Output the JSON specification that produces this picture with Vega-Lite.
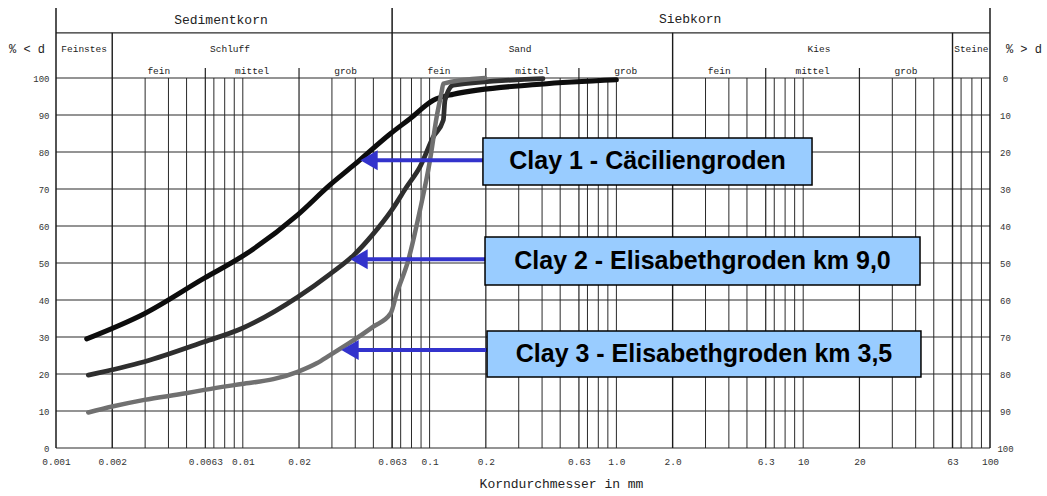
{
  "$schema": "https://vega.github.io/schema/vega-lite/v6.json",
  "width": 934,
  "height": 370,
  "autosize": {"type": "none"},
  "padding": {"left": 56, "top": 78, "right": 57, "bottom": 48},
  "background": "white",
  "config": {"view": {"stroke": null}, "font": "Liberation Mono"},
  "datasets": {
    "hlines": [
      {"p": 0}, {"p": 10}, {"p": 20}, {"p": 30}, {"p": 40}, {"p": 50},
      {"p": 60}, {"p": 70}, {"p": 80}, {"p": 90}, {"p": 100}, {"p": 112.2}
    ],
    "vlines": [
      {"d": 0.001, "kind": "full"}, {"d": 0.063, "kind": "full"}, {"d": 100, "kind": "full"},
      {"d": 0.002, "kind": "major"}, {"d": 2, "kind": "major"}, {"d": 63, "kind": "major"},
      {"d": 0.0063, "kind": "sub"}, {"d": 0.02, "kind": "sub"}, {"d": 0.2, "kind": "sub"},
      {"d": 0.63, "kind": "sub"}, {"d": 6.3, "kind": "sub"}, {"d": 20, "kind": "sub"},
      {"d": 0.003, "kind": "minor"}, {"d": 0.004, "kind": "minor"}, {"d": 0.005, "kind": "minor"},
      {"d": 0.007, "kind": "minor"}, {"d": 0.008, "kind": "minor"}, {"d": 0.009, "kind": "minor"},
      {"d": 0.01, "kind": "minor"}, {"d": 0.03, "kind": "minor"}, {"d": 0.04, "kind": "minor"},
      {"d": 0.05, "kind": "minor"}, {"d": 0.07, "kind": "minor"}, {"d": 0.08, "kind": "minor"},
      {"d": 0.09, "kind": "minor"}, {"d": 0.1, "kind": "minor"}, {"d": 0.3, "kind": "minor"},
      {"d": 0.4, "kind": "minor"}, {"d": 0.5, "kind": "minor"}, {"d": 0.7, "kind": "minor"},
      {"d": 0.8, "kind": "minor"}, {"d": 0.9, "kind": "minor"}, {"d": 1, "kind": "minor"},
      {"d": 3, "kind": "minor"}, {"d": 4, "kind": "minor"}, {"d": 5, "kind": "minor"},
      {"d": 7, "kind": "minor"}, {"d": 8, "kind": "minor"}, {"d": 9, "kind": "minor"},
      {"d": 10, "kind": "minor"}, {"d": 30, "kind": "minor"}, {"d": 40, "kind": "minor"},
      {"d": 50, "kind": "minor"}, {"d": 70, "kind": "minor"}, {"d": 80, "kind": "minor"},
      {"d": 90, "kind": "minor"}
    ],
    "curves": [
      {"clay": "Clay 1", "d": 0.00146, "p": 29.5},
      {"clay": "Clay 1", "d": 0.00297, "p": 36.3},
      {"clay": "Clay 1", "d": 0.00622, "p": 45.9},
      {"clay": "Clay 1", "d": 0.00987, "p": 51.7},
      {"clay": "Clay 1", "d": 0.01967, "p": 63.0},
      {"clay": "Clay 1", "d": 0.0293, "p": 71.1},
      {"clay": "Clay 1", "d": 0.0394, "p": 76.5},
      {"clay": "Clay 1", "d": 0.0619, "p": 85.0},
      {"clay": "Clay 1", "d": 0.0785, "p": 89.0},
      {"clay": "Clay 1", "d": 0.1047, "p": 94.0},
      {"clay": "Clay 1", "d": 0.134, "p": 95.6},
      {"clay": "Clay 1", "d": 0.39, "p": 98.3},
      {"clay": "Clay 1", "d": 1.0, "p": 99.5},
      {"clay": "Clay 2", "d": 0.001489, "p": 19.7},
      {"clay": "Clay 2", "d": 0.00297, "p": 23.3},
      {"clay": "Clay 2", "d": 0.00622, "p": 28.7},
      {"clay": "Clay 2", "d": 0.00987, "p": 32.3},
      {"clay": "Clay 2", "d": 0.0197, "p": 40.8},
      {"clay": "Clay 2", "d": 0.0293, "p": 47.0},
      {"clay": "Clay 2", "d": 0.0394, "p": 52.2},
      {"clay": "Clay 2", "d": 0.0494, "p": 57.6},
      {"clay": "Clay 2", "d": 0.0627, "p": 64.3},
      {"clay": "Clay 2", "d": 0.0754, "p": 70.6},
      {"clay": "Clay 2", "d": 0.0888, "p": 76.0},
      {"clay": "Clay 2", "d": 0.1047, "p": 84.1},
      {"clay": "Clay 2", "d": 0.1184, "p": 88.6},
      {"clay": "Clay 2", "d": 0.1209, "p": 94.0},
      {"clay": "Clay 2", "d": 0.134, "p": 98.1},
      {"clay": "Clay 2", "d": 0.4047, "p": 99.8},
      {"clay": "Clay 3", "d": 0.001489, "p": 9.6},
      {"clay": "Clay 3", "d": 0.002, "p": 11.2},
      {"clay": "Clay 3", "d": 0.00297, "p": 13.0},
      {"clay": "Clay 3", "d": 0.00495, "p": 14.8},
      {"clay": "Clay 3", "d": 0.00622, "p": 15.7},
      {"clay": "Clay 3", "d": 0.00987, "p": 17.3},
      {"clay": "Clay 3", "d": 0.01457, "p": 18.6},
      {"clay": "Clay 3", "d": 0.01967, "p": 20.6},
      {"clay": "Clay 3", "d": 0.02486, "p": 22.9},
      {"clay": "Clay 3", "d": 0.0293, "p": 25.1},
      {"clay": "Clay 3", "d": 0.0394, "p": 29.2},
      {"clay": "Clay 3", "d": 0.04995, "p": 32.8},
      {"clay": "Clay 3", "d": 0.0619, "p": 36.4},
      {"clay": "Clay 3", "d": 0.06667, "p": 41.8},
      {"clay": "Clay 3", "d": 0.07691, "p": 50.8},
      {"clay": "Clay 3", "d": 0.08884, "p": 64.3},
      {"clay": "Clay 3", "d": 0.1005, "p": 77.8},
      {"clay": "Clay 3", "d": 0.1091, "p": 89.5},
      {"clay": "Clay 3", "d": 0.1161, "p": 96.3},
      {"clay": "Clay 3", "d": 0.1184, "p": 98.5},
      {"clay": "Clay 3", "d": 0.198, "p": 100.0}
    ],
    "arrows": [
      {"clay": "Clay 1", "d": 0.0474, "d2": 0.193, "p": 77.8},
      {"clay": "Clay 2", "d": 0.0419, "d2": 0.198, "p": 51.0},
      {"clay": "Clay 3", "d": 0.0375, "d2": 0.203, "p": 26.5}
    ],
    "boxes": [
      {"label": "Clay 1 - Cäciliengroden", "d": 0.193, "d2": 11.15, "p": 83.8, "p2": 71.1, "dc": 1.467, "pc": 77.45},
      {"label": "Clay 2 - Elisabethgroden km 9,0", "d": 0.198, "d2": 42.2, "p": 57.0, "p2": 44.05, "dc": 2.89, "pc": 50.5},
      {"label": "Clay 3 - Elisabethgroden km 3,5", "d": 0.203, "d2": 42.7, "p": 31.6, "p2": 19.2, "dc": 2.944, "pc": 25.4}
    ],
    "header": [
      {"label": "Sedimentkorn", "d": 0.00764, "p": 115.8, "level": "title"},
      {"label": "Siebkorn", "d": 2.48, "p": 115.9, "level": "title"},
      {"label": "Feinstes", "d": 0.001414, "p": 107.8, "level": "group"},
      {"label": "Schluff", "d": 0.00854, "p": 107.8, "level": "group"},
      {"label": "Sand", "d": 0.305, "p": 107.8, "level": "group"},
      {"label": "Kies", "d": 12.15, "p": 107.8, "level": "group"},
      {"label": "Steine", "d": 79.4, "p": 107.8, "level": "group"},
      {"label": "fein", "d": 0.00355, "p": 101.9, "level": "sub"},
      {"label": "mittel", "d": 0.01122, "p": 101.9, "level": "sub"},
      {"label": "grob", "d": 0.0355, "p": 101.9, "level": "sub"},
      {"label": "fein", "d": 0.1122, "p": 101.9, "level": "sub"},
      {"label": "mittel", "d": 0.355, "p": 101.9, "level": "sub"},
      {"label": "grob", "d": 1.122, "p": 101.9, "level": "sub"},
      {"label": "fein", "d": 3.55, "p": 101.9, "level": "sub"},
      {"label": "mittel", "d": 11.22, "p": 101.9, "level": "sub"},
      {"label": "grob", "d": 35.5, "p": 101.9, "level": "sub"},
      {"label": "% < d", "d": 0.0007, "p": 107.8, "level": "side"},
      {"label": "% > d", "d": 152, "p": 107.8, "level": "side"}
    ]
  },
  "resolve": {"axis": {"y": "independent"}},
  "layer": [
    {
      "data": {"name": "hlines"},
      "mark": {"type": "rule", "color": "#2a2a2a", "strokeWidth": 1.1},
      "encoding": {
        "x": {"datum": 0.001, "type": "quantitative", "scale": {"type": "log", "domain": [0.001, 100], "nice": false}},
        "x2": {"datum": 100},
        "y": {
          "field": "p", "type": "quantitative",
          "scale": {"domain": [0, 100], "nice": false, "zero": false},
          "axis": {
            "orient": "right", "values": [0, 10, 20, 30, 40, 50, 60, 70, 80, 90, 100],
            "labelExpr": "100 - datum.value", "ticks": false, "domain": false, "grid": false,
            "labelAlign": "center", "labelPadding": 15, "labelFont": "Liberation Mono",
            "labelFontSize": 9, "labelColor": "#333", "title": null
          }
        }
      }
    },
    {
      "data": {"name": "vlines"},
      "transform": [{"filter": "datum.kind == 'minor'"}],
      "mark": {"type": "rule", "color": "#2a2a2a", "strokeWidth": 1},
      "encoding": {
        "x": {"field": "d", "type": "quantitative", "scale": {"type": "log", "domain": [0.001, 100], "nice": false}},
        "y": {"datum": 0, "type": "quantitative", "axis": null},
        "y2": {"datum": 100}
      }
    },
    {
      "data": {"name": "vlines"},
      "transform": [{"filter": "datum.kind == 'sub'"}],
      "mark": {"type": "rule", "color": "#222", "strokeWidth": 1.2},
      "encoding": {
        "x": {"field": "d", "type": "quantitative", "scale": {"type": "log", "domain": [0.001, 100], "nice": false}},
        "y": {"datum": 0, "type": "quantitative", "axis": null},
        "y2": {"datum": 102.7}
      }
    },
    {
      "data": {"name": "vlines"},
      "transform": [{"filter": "datum.kind == 'major'"}],
      "mark": {"type": "rule", "color": "#1a1a1a", "strokeWidth": 1.4},
      "encoding": {
        "x": {"field": "d", "type": "quantitative", "scale": {"type": "log", "domain": [0.001, 100], "nice": false}},
        "y": {"datum": 0, "type": "quantitative", "axis": null},
        "y2": {"datum": 112.2}
      }
    },
    {
      "data": {"name": "vlines"},
      "transform": [{"filter": "datum.kind == 'full'"}],
      "mark": {"type": "rule", "color": "#1a1a1a", "strokeWidth": 1.5},
      "encoding": {
        "x": {"field": "d", "type": "quantitative", "scale": {"type": "log", "domain": [0.001, 100], "nice": false}},
        "y": {"datum": 0, "type": "quantitative", "axis": null},
        "y2": {"datum": 118.9}
      }
    },
    {
      "data": {"name": "curves"},
      "mark": {"type": "line", "interpolate": "monotone", "strokeCap": "round", "strokeJoin": "round"},
      "encoding": {
        "x": {
          "field": "d", "type": "quantitative",
          "scale": {"type": "log", "domain": [0.001, 100], "nice": false},
          "axis": {
            "orient": "bottom",
            "values": [0.001, 0.002, 0.0063, 0.01, 0.02, 0.063, 0.1, 0.2, 0.63, 1, 2, 6.3, 10, 20, 63, 100],
            "labelExpr": "datum.value == 1 ? '1.0' : datum.value == 2 ? '2.0' : '' + datum.value",
            "ticks": false, "domain": false, "grid": false, "labelOverlap": false, "labelFlush": false,
            "labelPadding": 8, "labelFont": "Liberation Mono", "labelFontSize": 9.5, "labelColor": "#333",
            "title": "Korndurchmesser in mm", "titleFont": "Liberation Mono", "titleFontSize": 13,
            "titleFontWeight": "normal", "titleColor": "#222", "titlePadding": 12, "titleX": 505
          }
        },
        "y": {
          "field": "p", "type": "quantitative",
          "scale": {"domain": [0, 100], "nice": false, "zero": false},
          "axis": {
            "orient": "left", "values": [0, 10, 20, 30, 40, 50, 60, 70, 80, 90, 100],
            "ticks": false, "domain": false, "grid": false, "labelPadding": 7,
            "labelFont": "Liberation Mono", "labelFontSize": 9, "labelColor": "#333", "title": null
          }
        },
        "color": {
          "field": "clay", "type": "nominal",
          "scale": {"domain": ["Clay 1", "Clay 2", "Clay 3"], "range": ["#0d0d0d", "#2e2e2e", "#707070"]},
          "legend": null
        },
        "strokeWidth": {
          "field": "clay", "type": "nominal",
          "scale": {"domain": ["Clay 1", "Clay 2", "Clay 3"], "range": [5, 4.5, 6]},
          "legend": null
        }
      }
    },
    {
      "data": {"name": "arrows"},
      "mark": {"type": "rule", "color": "#3333cc", "strokeWidth": 4},
      "encoding": {
        "x": {"field": "d", "type": "quantitative", "scale": {"type": "log", "domain": [0.001, 100], "nice": false}},
        "x2": {"field": "d2"},
        "y": {"field": "p", "type": "quantitative", "axis": null}
      }
    },
    {
      "data": {"name": "arrows"},
      "mark": {"type": "point", "shape": "triangle-left", "filled": true, "size": 400, "color": "#3333cc", "opacity": 1},
      "encoding": {
        "x": {"field": "d", "type": "quantitative", "scale": {"type": "log", "domain": [0.001, 100], "nice": false}},
        "y": {"field": "p", "type": "quantitative", "axis": null}
      }
    },
    {
      "data": {"name": "boxes"},
      "mark": {"type": "rect", "fill": "#99ccff", "stroke": "#000", "strokeWidth": 1.5},
      "encoding": {
        "x": {"field": "d", "type": "quantitative", "scale": {"type": "log", "domain": [0.001, 100], "nice": false}},
        "x2": {"field": "d2"},
        "y": {"field": "p", "type": "quantitative", "axis": null},
        "y2": {"field": "p2"}
      }
    },
    {
      "data": {"name": "boxes"},
      "mark": {"type": "text", "font": "Liberation Sans", "fontWeight": "bold", "fontSize": 25, "color": "#000", "align": "center", "baseline": "middle"},
      "encoding": {
        "x": {"field": "dc", "type": "quantitative", "scale": {"type": "log", "domain": [0.001, 100], "nice": false}},
        "y": {"field": "pc", "type": "quantitative", "axis": null},
        "text": {"field": "label"}
      }
    },
    {
      "data": {"name": "header"},
      "transform": [{"filter": "datum.level == 'title'"}],
      "mark": {"type": "text", "font": "Liberation Mono", "fontSize": 13, "color": "#222", "align": "center", "baseline": "middle"},
      "encoding": {
        "x": {"field": "d", "type": "quantitative", "scale": {"type": "log", "domain": [0.001, 100], "nice": false}},
        "y": {"field": "p", "type": "quantitative", "axis": null},
        "text": {"field": "label"}
      }
    },
    {
      "data": {"name": "header"},
      "transform": [{"filter": "datum.level == 'group'"}],
      "mark": {"type": "text", "font": "Liberation Mono", "fontSize": 9.5, "color": "#222", "align": "center", "baseline": "middle"},
      "encoding": {
        "x": {"field": "d", "type": "quantitative", "scale": {"type": "log", "domain": [0.001, 100], "nice": false}},
        "y": {"field": "p", "type": "quantitative", "axis": null},
        "text": {"field": "label"}
      }
    },
    {
      "data": {"name": "header"},
      "transform": [{"filter": "datum.level == 'sub'"}],
      "mark": {"type": "text", "font": "Liberation Mono", "fontSize": 9.5, "color": "#222", "align": "center", "baseline": "middle"},
      "encoding": {
        "x": {"field": "d", "type": "quantitative", "scale": {"type": "log", "domain": [0.001, 100], "nice": false}},
        "y": {"field": "p", "type": "quantitative", "axis": null},
        "text": {"field": "label"}
      }
    },
    {
      "data": {"name": "header"},
      "transform": [{"filter": "datum.level == 'side'"}],
      "mark": {"type": "text", "font": "Liberation Mono", "fontSize": 12, "color": "#222", "align": "center", "baseline": "middle"},
      "encoding": {
        "x": {"field": "d", "type": "quantitative", "scale": {"type": "log", "domain": [0.001, 100], "nice": false}},
        "y": {"field": "p", "type": "quantitative", "axis": null},
        "text": {"field": "label"}
      }
    }
  ]
}
